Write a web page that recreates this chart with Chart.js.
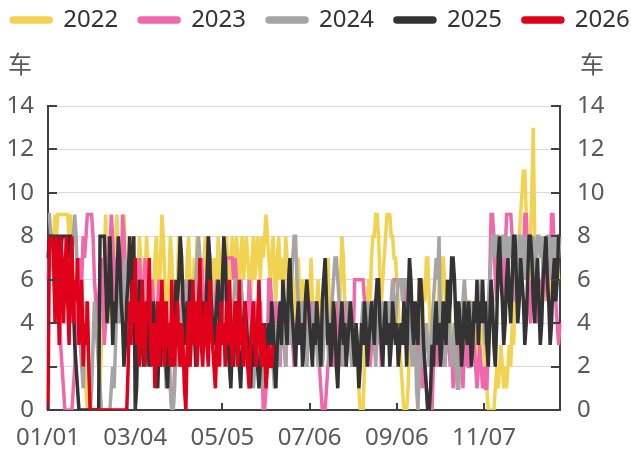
<!DOCTYPE html>
<html>
<head>
<meta charset="utf-8">
<script src="https://cdn.jsdelivr.net/npm/chart.js@4.4.1/dist/chart.umd.min.js"></script>
<style>
  html, body { margin: 0; padding: 0; background: #fff; }
</style>
</head>
<body>
<canvas id="chart" width="631" height="454"></canvas>
<script>
// day-by-day counts, Jan 1 .. Dec 31
const y2022 = [
  8,8,7,8,8,9,8,9,9,9,9,9,9,9,9,8,9,7,6,5,4,5,6,5,4,3,2,1,0,0,0,
  0,0,0,0,0,0,1,3,5,7,9,6,4,5,8,5,6,7,9,5,4,6,8,9,7,5,3,4,6,8,7,
  4,5,6,8,7,5,4,6,8,7,6,4,3,5,7,8,6,5,7,9,8,6,4,5,6,8,7,5,3,4,6,
  8,7,5,4,6,5,7,8,6,4,5,7,6,8,7,5,4,6,7,8,6,5,3,4,6,7,5,6,8,7,5,
  6,6,7,8,6,5,7,8,7,6,8,7,6,7,8,6,7,8,7,6,5,7,8,6,7,8,7,6,8,7,8,
  9,8,7,6,7,8,6,5,7,8,6,7,5,6,8,7,6,5,7,6,5,4,6,7,5,4,6,5,3,4,6,
  5,7,5,4,3,5,6,4,3,2,4,5,6,7,5,3,2,4,5,3,2,4,6,8,7,5,4,3,5,4,3,
  2,3,4,2,1,0,0,0,2,4,5,6,5,7,8,8,9,9,8,6,5,6,7,8,9,9,9,8,8,7,7,
  6,5,3,2,1,0,0,0,1,3,2,4,3,5,4,2,3,5,4,6,5,7,7,5,3,2,4,3,5,4,6,
  3,7,7,6,4,3,5,4,2,3,4,2,3,5,4,3,2,4,3,2,5,5,4,3,4,2,3,5,4,3,4,
  3,2,1,0,0,0,0,0,1,2,1,2,3,2,1,2,1,2,3,2,4,3,5,6,6,8,9,10,11,11,
  9,7,6,8,10,13,8,7,6,5,5,6,5,6,7,6,5,6,7,6,5,6,7,6,6
];
const y2023 = [
  6,7,8,7,8,6,7,6,5,3,2,1,0,0,0,0,0,0,1,2,4,6,5,7,6,8,7,8,9,9,9,
  9,8,6,5,4,5,6,7,5,3,4,6,8,7,9,8,6,5,7,6,4,5,9,8,6,4,3,5,6,4,5,
  7,5,6,7,6,4,5,7,6,5,3,4,6,5,4,3,5,6,4,3,2,4,5,3,2,1,0,0,2,4,5,
  3,4,5,6,4,3,5,6,5,4,3,5,6,4,3,5,7,6,4,5,6,8,7,5,4,3,5,6,4,3,5,
  6,5,6,7,7,7,7,7,6,7,6,5,4,6,5,4,3,5,4,6,5,4,3,5,4,3,4,5,3,0,0,
  1,3,6,6,5,4,3,5,4,3,2,4,5,3,2,4,3,5,4,3,2,4,3,5,4,3,4,5,3,2,4,
  5,4,5,4,3,5,4,2,1,0,0,0,1,2,3,4,3,2,4,3,5,4,3,2,4,3,5,4,3,4,2,
  3,6,6,6,6,6,6,6,5,4,3,4,2,3,4,5,5,4,3,4,2,3,4,3,5,4,3,4,5,6,6,
  6,6,6,6,6,6,5,4,3,4,5,3,4,3,2,4,3,2,1,3,2,1,0,0,1,0,2,3,2,4,3,
  2,3,4,2,3,4,3,2,3,1,2,3,4,2,3,2,1,3,2,3,2,2,3,4,3,2,1,2,3,2,1,
  2,1,1,3,6,9,9,8,6,5,6,7,8,6,5,7,9,9,9,9,8,6,5,7,6,5,6,8,7,9,
  9,6,5,4,6,5,7,6,4,5,6,5,7,8,6,5,7,6,9,9,7,5,4,3,4
];
const y2024 = [
  9,9,8,7,6,5,7,6,5,6,7,6,5,7,8,6,5,7,8,9,8,6,4,3,2,1,3,5,4,2,0,
  1,3,5,4,3,2,1,0,0,0,0,0,0,0,1,2,1,3,5,4,6,5,4,6,7,5,3,4,6,5,4,
  6,6,5,4,3,5,6,4,3,2,4,5,3,4,2,3,5,4,3,2,4,3,1,2,3,1,0,0,1,3,4,
  2,3,5,4,6,5,3,4,2,3,5,4,6,7,8,7,5,4,3,5,4,6,5,6,4,3,2,4,5,3,4,
  5,4,3,2,3,5,4,3,5,6,6,5,4,6,5,3,4,2,3,4,2,3,1,2,3,4,2,3,2,1,3,
  2,3,2,4,3,2,1,3,4,2,3,5,4,3,2,4,5,3,6,7,8,8,6,5,4,3,5,4,3,2,4,
  3,4,3,5,4,3,2,4,3,2,3,5,4,3,2,4,5,6,7,7,6,5,4,3,2,4,3,5,4,3,2,
  3,4,2,3,2,3,4,5,3,4,5,4,3,5,4,3,2,4,5,4,3,5,4,3,4,5,4,5,6,5,4,
  5,6,6,6,5,6,6,6,5,4,3,2,3,4,1,0,2,3,4,2,3,4,3,2,3,4,5,6,7,6,8,
  4,3,4,2,3,4,5,3,2,3,4,2,1,1,3,4,5,6,5,4,3,4,5,3,4,5,4,3,5,6,5,
  4,3,4,5,6,7,8,8,7,8,8,6,7,8,8,7,8,6,8,7,8,8,6,5,7,8,8,7,8,6,
  7,8,8,8,7,8,6,7,8,8,7,8,6,8,7,8,8,7,6,8,7,8,8,7,8
];
const y2025 = [
  7,8,8,8,8,7,8,8,8,7,8,8,8,8,7,8,8,6,5,3,2,1,0,0,0,0,0,0,0,0,0,
  0,0,0,0,0,0,8,8,8,8,6,4,5,8,6,3,5,4,6,8,7,5,4,2,3,5,6,8,7,4,8,
  0,1,4,6,5,3,2,4,5,3,2,4,3,5,4,2,1,3,2,4,5,3,2,1,3,4,2,3,4,6,5,
  6,8,7,5,4,3,5,4,6,5,3,4,2,3,5,6,4,3,5,4,6,8,7,5,4,3,4,5,6,4,3,
  6,8,7,5,3,2,1,3,2,4,5,3,2,1,3,4,5,4,3,2,1,3,2,4,3,2,1,2,3,2,4,
  3,2,4,3,5,4,2,1,3,4,5,3,6,5,4,3,6,7,5,4,3,2,4,5,3,4,2,3,5,6,5,
  4,3,2,4,3,5,4,3,2,5,6,7,5,3,4,2,3,5,4,2,1,3,4,5,3,4,2,3,4,5,4,
  3,2,4,3,1,2,4,3,5,4,2,3,4,5,4,3,5,6,6,4,3,2,4,5,3,4,2,3,5,4,3,
  4,2,3,4,3,5,4,2,5,7,6,4,3,5,4,3,6,6,5,3,2,1,0,0,1,3,2,4,5,3,4,
  2,3,5,4,3,6,4,5,7,7,6,4,3,5,4,2,3,5,4,3,5,4,2,3,5,4,6,3,5,4,6,
  4,5,3,2,4,6,5,3,2,4,7,8,6,5,3,4,6,7,5,4,6,8,8,6,4,5,7,6,5,3,
  4,6,8,8,7,5,4,6,7,5,3,4,6,7,8,6,5,3,4,6,7,5,6,8,8
];
const y2026 = [
  0,8,8,8,7,4,8,6,3,8,7,4,6,8,5,3,7,8,4,6,5,7,3,4,6,2,4,3,5,2,0,
  0,0,0,0,0,0,0,0,0,0,0,0,0,0,0,0,0,0,0,0,0,0,0,0,0,0,2,5,3,6,4,
  7,3,5,2,4,6,3,2,5,4,7,3,2,4,1,3,5,2,4,6,3,2,5,3,4,2,6,3,2,4,5,
  3,2,4,3,1,0,3,5,2,4,6,3,5,2,4,7,3,2,4,5,3,2,6,4,3,2,1,3,4,2,5,
  3,4,2,5,3,6,4,2,3,5,4,2,6,3,4,2,5,3,2,1,3,4,5,3,2,4,6,3,2,4,3,
  1,2,3,2,2,3
];
const tickLabels = ['01/01', '03/04', '05/05', '07/06', '09/06', '11/07'];
const tickStep = 62;

// category labels MM/DD for one (non leap) year
const categories = [];
for (let d = new Date(2022, 0, 1); d.getFullYear() === 2022; d.setDate(d.getDate() + 1)) {
  categories.push(String(d.getMonth() + 1).padStart(2, '0') + '/' + String(d.getDate()).padStart(2, '0'));
}

const FONT = "'Noto Sans', 'Noto Sans CJK SC', sans-serif";
const TICK_COLOR = '#595959';
const AXIS_COLOR = '#404040';

function series(label, data, color) {
  return {
    label: label,
    data: data,
    borderColor: color,
    backgroundColor: color,
    borderWidth: 3.5,
    pointRadius: 0,
    tension: 0,
    fill: false
  };
}

// extra room under the legend for the unit labels
const legendSpace = {
  id: 'legendSpace',
  afterInit(chart) {
    const fit = chart.legend.fit;
    chart.legend.fit = function () {
      fit.call(this);
      this.height += 64;
    };
  }
};

// inward tick marks and the "车" unit labels
const axisExtras = {
  id: 'axisExtras',
  afterDraw(chart) {
    const { ctx, chartArea, scales } = chart;
    ctx.save();
    ctx.strokeStyle = AXIS_COLOR;
    ctx.lineWidth = 2;
    ctx.beginPath();
    scales.y.ticks.forEach(t => {
      const y = Math.round(scales.y.getPixelForValue(t.value));
      ctx.moveTo(chartArea.left, y);
      ctx.lineTo(chartArea.left + 9, y);
      ctx.moveTo(chartArea.right - 9, y);
      ctx.lineTo(chartArea.right, y);
    });
    scales.x.ticks.forEach(t => {
      const x = Math.round(scales.x.getPixelForValue(t.value));
      ctx.moveTo(x, chartArea.bottom);
      ctx.lineTo(x, chartArea.bottom - 7);
    });
    ctx.stroke();

    ctx.fillStyle = TICK_COLOR;
    ctx.font = '24px ' + FONT;
    ctx.textAlign = 'center';
    ctx.textBaseline = 'middle';
    ctx.fillText('车', chartArea.left - 28, chartArea.top - 40);
    ctx.fillText('车', chartArea.right + 32, chartArea.top - 40);
    ctx.restore();
  }
};

const tickFont = { family: FONT, size: 24 };

new Chart(document.getElementById('chart'), {
  type: 'line',
  data: {
    labels: categories,
    datasets: [
      series('2022', y2022, '#F2D251'),
      series('2023', y2023, '#F068AA'),
      series('2024', y2024, '#A5A5A5'),
      series('2025', y2025, '#333333'),
      series('2026', y2026, '#E1001A')
    ].map((ds, i) => Object.assign(ds, { order: 5 - i }))
  },
  options: {
    responsive: false,
    animation: false,
    events: [],
    layout: { padding: { top: -13, left: -25, right: -35, bottom: 0 } },
    plugins: {
      tooltip: { enabled: false },
      legend: {
        position: 'top',
        labels: {
          boxWidth: 40,
          boxHeight: 4,
          useBorderRadius: true,
          borderRadius: 2,
          padding: 21,
          color: '#333333',
          font: { family: FONT, size: 24 },
          sort: (a, b) => a.datasetIndex - b.datasetIndex
        }
      }
    },
    scales: {
      x: {
        type: 'category',
        offset: false,
        grid: { display: false, drawTicks: false },
        border: { color: AXIS_COLOR, width: 2 },
        ticks: {
          autoSkip: false,
          maxRotation: 0,
          padding: 14,
          color: TICK_COLOR,
          font: tickFont,
          callback: (v, i, ticks) => categories[ticks[i].value]
        },
        afterBuildTicks: s => { s.ticks = s.ticks.filter(t => t.value % tickStep === 0); },
        afterFit: s => { s.height = 44; }
      },
      y: {
        position: 'left',
        min: 0,
        max: 14,
        grid: { color: '#D9D9E5', lineWidth: 1, drawTicks: false },
        border: { color: AXIS_COLOR, width: 2 },
        ticks: { stepSize: 2, padding: 14, color: TICK_COLOR, font: tickFont },
        afterFit: s => { s.width = 73; }
      },
      y2: {
        position: 'right',
        min: 0,
        max: 14,
        grid: { display: false, drawTicks: false },
        border: { color: AXIS_COLOR, width: 2 },
        ticks: { stepSize: 2, padding: 17, color: TICK_COLOR, font: tickFont },
        afterFit: s => { s.width = 106; }
      }
    }
  },
  plugins: [legendSpace, axisExtras]
});
</script>
</body>
</html>
